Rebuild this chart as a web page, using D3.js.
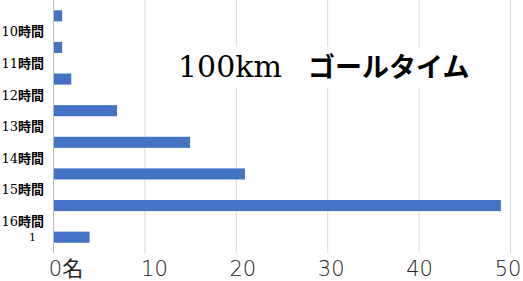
<!DOCTYPE html>
<html>
<head>
<meta charset="utf-8">
<script src="https://cdn.jsdelivr.net/npm/d3@7"></script>
<style>
  body { margin: 0; background: #fff; }
</style>
</head>
<body>
<svg id="chart" width="523" height="281"></svg>
<script>
// data
const categories = ["10", "11", "12", "13", "14", "15", "16", "17"];
const values = [1, 1, 2, 7, 15, 21, 49, 4];
const rowLabels = ["10時間", "11時間", "12時間", "13時間", "14時間", "15時間", "16時間", "1"];
const xTicks = [0, 10, 20, 30, 40, 50];
const title = ["100km", "ゴールタイム"];

const svg = d3.select("#chart"),
  margins = {top: 0, left: 53, right: 13, bottom: 28},
  width = 523 - margins.left - margins.right,
  height = 281 - margins.top - margins.bottom;

const xScale = d3.scaleLinear().domain([0, 50]).range([0, width]);
// the tick labels in the picture sit on their own, slightly narrower, spacing
const labelScale = d3.scaleLinear().domain([0, 50]).range([13, 455]);

const yScale = d3.scaleBand()
  .domain(categories)
  .range([0, height])
  .paddingInner(0.65)
  .paddingOuter(0.325);

const g = svg.append("g").attr("transform", "translate(" + margins.left + "," + margins.top + ")");

// gridlines
g.append("g")
  .selectAll("line")
  .data(xTicks.slice(1))
  .enter().append("line")
    .attr("x1", d => xScale(d) + 0.5)
    .attr("x2", d => xScale(d) + 0.5)
    .attr("y1", 0)
    .attr("y2", height)
    .attr("stroke", "#d9d9d9");

// bars
g.append("g")
  .selectAll("rect")
  .data(values)
  .enter().append("rect")
    .attr("x", xScale(0))
    .attr("y", (d, i) => yScale(categories[i]))
    .attr("width", d => xScale(d) - xScale(0))
    .attr("height", yScale.bandwidth())
    .attr("fill", "#4472c4");

// category axis line
g.append("line")
  .attr("x1", 0.5).attr("x2", 0.5)
  .attr("y1", 0).attr("y2", height)
  .attr("stroke", "#bfbfbf");

// row labels: between the bars, last one on its bar
const step = yScale.step();
g.append("g")
  .selectAll("text")
  .data(rowLabels)
  .enter().append("text")
    .attr("x", (d, i) => i < rowLabels.length - 1 ? -9 : -17)
    .attr("y", (d, i) => yScale(categories[i]) + yScale.bandwidth() / 2 + (i < rowLabels.length - 1 ? step / 2 : 0))
    .attr("dy", "0.36em")
    .attr("text-anchor", "end")
    .attr("font-size", (d, i) => i < rowLabels.length - 1 ? 13 : 11)
    .attr("fill", "#000")
    .each(function(d) {
      const t = d3.select(this), m = d.match(/^(\d+)(.*)$/);
      t.append("tspan").attr("font-family", "DejaVu Serif").text(m ? m[1] : d);
      if (m && m[2]) t.append("tspan").attr("font-family", "Noto Sans CJK JP").attr("font-weight", 700).text(m[2]);
    });

// x tick labels
g.append("g")
  .selectAll("text")
  .data(xTicks)
  .enter().append("text")
    .attr("x", d => labelScale(d))
    .attr("y", height + 23)
    .attr("text-anchor", "middle")
    .attr("font-size", 21)
    .attr("fill", "#222")
    .each(function(d) {
      const t = d3.select(this);
      t.append("tspan").attr("font-family", "DejaVu Sans").attr("font-weight", 300).text(d);
      if (d === 0) t.append("tspan").attr("font-family", "Noto Sans CJK JP").text("名");
    });

// title box
svg.append("rect")
  .attr("x", 170).attr("y", 47)
  .attr("width", 308).attr("height", 41)
  .attr("fill", "#fff");

const titleText = svg.append("text")
  .attr("x", 178)
  .attr("y", 77)
  .attr("fill", "#000");
titleText.append("tspan")
  .attr("font-family", "DejaVu Serif")
  .attr("font-size", 30)
  .text(title[0]);
titleText.append("tspan")
  .attr("x", 308)
  .attr("font-family", "Noto Sans CJK JP")
  .attr("font-weight", 700)
  .attr("font-size", 27)
  .text(title[1]);
</script>
</body>
</html>
